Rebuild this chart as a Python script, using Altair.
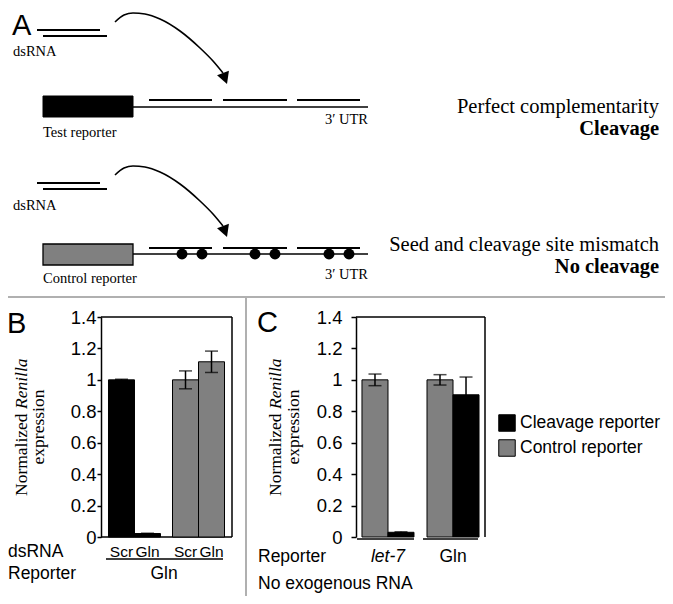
import altair as alt
import pandas as pd

SERIF = "Liberation Serif"
SANS = "Liberation Sans"

# ---------------- Panel B values ----------------
b_reporter = ["Cleavage reporter", "Cleavage reporter", "Control reporter", "Control reporter"]
b_dsrna = ["Scr", "Gln", "Scr", "Gln"]
b_mean = [1.0, 0.022, 1.0, 1.115]
b_err = [0.004, 0.002, 0.057, 0.068]

# ---------------- Panel C values ----------------
c_group = ["let-7", "let-7", "Gln", "Gln"]
c_reporter = ["Control reporter", "Cleavage reporter", "Control reporter", "Cleavage reporter"]
c_mean = [1.0, 0.03, 1.0, 0.905]
c_err = [0.037, 0.003, 0.033, 0.113]
c_group_labels = ["let-7", "Gln"]

y_tick_values = [0, 0.2, 0.4, 0.6, 0.8, 1.0, 1.2, 1.4]
series_names = ["Cleavage reporter", "Control reporter"]
series_colors = ["#000000", "#808080"]

# ---------------- Panel A schematic (figure pixel coordinates) ----------------
strand_x1 = [37, 43, 37, 43]
strand_x2 = [100, 107, 100, 107]
strand_y = [30, 36, 183, 189]

utr_x1 = [133, 133]
utr_x2 = [368, 368]
utr_y = [107, 254]

site_x1 = [149, 223, 297, 149, 223, 297]
site_x2 = [212, 287, 360, 212, 287, 360]
site_y = [100, 100, 100, 248, 248, 248]

test_box_x = [43]; test_box_x2 = [133]; test_box_y = [96]; test_box_y2 = [117]
ctrl_box_x = [43]; ctrl_box_x2 = [133]; ctrl_box_y = [244]; ctrl_box_y2 = [265]

mismatch_x = [182, 202, 255, 275, 329, 349]
mismatch_y = [254, 254, 254, 254, 254, 254]

arrow1_x = [115, 124, 133, 145, 160, 180, 200, 213, 223]
arrow1_y = [22, 15, 13, 14, 19, 31, 48, 61, 73]
arrow2_x = [115, 124, 133, 145, 160, 180, 200, 213, 223]
arrow2_y = [175, 168, 166, 167, 172, 184, 201, 214, 226]
head_x = [227, 227]
head_y = [84, 237]

# separators, plot frames and group underlines
hsep_x1 = [8]; hsep_x2 = [665]; hsep_y = [297]
vsep_x = [246]; vsep_y1 = [297]; vsep_y2 = [596]
frame_h_x1 = [101, 101, 356]
frame_h_x2 = [232, 232, 485]
frame_h_y = [317, 537, 317]
frame_v_x = [232, 485]
frame_v_y1 = [317, 317]
frame_v_y2 = [537, 537]
uline_x1 = [106, 357, 423]
uline_x2 = [223, 414, 478]
uline_y = [559, 539, 539]

# ---------------- scales for the schematic canvas ----------------
W, H = 657, 588
XS = alt.Scale(domain=[8, 8 + W], range=[0, W], zero=False, nice=False)
YS = alt.Scale(domain=[8, 8 + H], range=[0, H], zero=False, nice=False)


def PX(f):
    return alt.X(f, type="quantitative", scale=XS, axis=None)


def PY(f):
    return alt.Y(f, type="quantitative", scale=YS, axis=None)


def hrules(x1, x2, y, width=1.5, color="black"):
    df = pd.DataFrame({"x1": x1, "x2": x2, "y": y})
    return alt.Chart(df).mark_rule(strokeWidth=width, color=color).encode(
        x=PX("x1"), x2="x2", y=PY("y"))


def vrules(x, y1, y2, width=1.5, color="black"):
    df = pd.DataFrame({"x": x, "y1": y1, "y2": y2})
    return alt.Chart(df).mark_rule(strokeWidth=width, color=color).encode(
        x=PX("x"), y=PY("y1"), y2="y2")


def texts(labels, xs, ys, **mark):
    df = pd.DataFrame({"t": labels, "x": xs, "y": ys})
    return alt.Chart(df).mark_text(color="black", **mark).encode(
        x=PX("x"), y=PY("y"), text="t:N")


strands = hrules(strand_x1, strand_x2, strand_y, 1.8)
utr = hrules(utr_x1, utr_x2, utr_y, 1.5)
sites = hrules(site_x1, site_x2, site_y, 1.8)

test_box = alt.Chart(pd.DataFrame({"x": test_box_x, "x2": test_box_x2, "y": test_box_y, "y2": test_box_y2})).mark_rect(
    fill="black", stroke="black", strokeWidth=1).encode(x=PX("x"), x2="x2", y=PY("y"), y2="y2")
ctrl_box = alt.Chart(pd.DataFrame({"x": ctrl_box_x, "x2": ctrl_box_x2, "y": ctrl_box_y, "y2": ctrl_box_y2})).mark_rect(
    fill="#808080", stroke="black", strokeWidth=1.3).encode(x=PX("x"), x2="x2", y=PY("y"), y2="y2")

dots = alt.Chart(pd.DataFrame({"x": mismatch_x, "y": mismatch_y})).mark_point(
    shape="circle", size=120, filled=True, color="black", opacity=1).encode(x=PX("x"), y=PY("y"))

arrow_df = pd.DataFrame({"x": arrow1_x + arrow2_x, "y": arrow1_y + arrow2_y,
                         "id": ["a1"] * len(arrow1_x) + ["a2"] * len(arrow2_x)})
arrows = alt.Chart(arrow_df).mark_line(interpolate="monotone", color="black", strokeWidth=1.6).encode(
    x=PX("x"), y=PY("y"), detail="id:N")
heads = alt.Chart(pd.DataFrame({"x": head_x, "y": head_y})).mark_point(
    shape="M0,0L-0.54,-1L0.54,-1Z", size=548, angle=340, filled=True, color="black", opacity=1, strokeWidth=0
).encode(x=PX("x"), y=PY("y"))

hsep = hrules(hsep_x1, hsep_x2, hsep_y, 2, "#b0b0b0")
vsep = vrules(vsep_x, vsep_y1, vsep_y2, 2, "#b0b0b0")
frame_h = hrules(frame_h_x1, frame_h_x2, frame_h_y, 1.5)
frame_v = vrules(frame_v_x, frame_v_y1, frame_v_y2, 1.5)
ulines = hrules(uline_x1, uline_x2, uline_y, 1.5)

schem_small = texts(["dsRNA", "dsRNA", "Test reporter", "Control reporter"],
                    [13, 13, 43, 43], [56, 210, 137, 283],
                    font=SERIF, fontSize=14.5, align="left", baseline="alphabetic")
utr_text = texts(["3′ UTR", "3′ UTR"], [368, 368], [124, 279],
                 font=SERIF, fontSize=14.5, align="right", baseline="alphabetic")
right_plain = texts(["Perfect complementarity", "Seed and cleavage site mismatch"], [659, 659], [113, 251],
                    font=SERIF, fontSize=20.5, align="right", baseline="alphabetic")
right_bold = texts(["Cleavage", "No cleavage"], [659, 659], [135, 273],
                   font=SERIF, fontSize=20.5, fontWeight="bold", align="right", baseline="alphabetic")
letters = texts(["A", "B", "C"], [12, 7, 257], [35, 333, 332],
                font=SANS, fontSize=29, align="left", baseline="alphabetic")
row_labels = texts(["dsRNA", "Reporter", "Reporter", "No exogenous RNA"], [8, 8, 258, 258], [557, 579, 562, 589],
                   font=SANS, fontSize=17.5, align="left", baseline="alphabetic")
b_rep_label = texts(["Gln"], [164], [579], font=SANS, fontSize=17.5, align="center", baseline="alphabetic")

ytitle_norm = texts(["Normalized", "Normalized"], [22, 276], [496, 496],
                    font=SERIF, fontSize=17.5, angle=270, align="left", baseline="middle")
ytitle_ren = texts(["Renilla", "Renilla"], [22, 276], [409, 409],
                   font=SERIF, fontSize=17.5, fontStyle="italic", angle=270, align="left", baseline="middle")
ytitle_expr = texts(["expression", "expression"], [39, 294], [427, 427],
                    font=SERIF, fontSize=17.5, angle=270, align="center", baseline="middle")

schematic_units = [hsep, vsep, strands, utr, sites, test_box, ctrl_box, dots, arrows, heads, ulines,
                   frame_h, frame_v, schem_small, utr_text, right_plain, right_bold, letters,
                   row_labels, b_rep_label, ytitle_norm, ytitle_ren, ytitle_expr]

# ---------------- shared bar chart pieces ----------------
COLOR = alt.Color("reporter:N", scale=alt.Scale(domain=series_names, range=series_colors),
                  legend=alt.Legend(orient="none", legendX=490, legendY=406, title=None,
                                    symbolType="square", symbolSize=272, symbolStrokeColor="black",
                                    symbolStrokeWidth=1, labelFont=SANS, labelFontSize=17.5,
                                    labelColor="black", labelOffset=4, rowPadding=3, padding=0))


def YB():
    return alt.Scale(domain=[0, 1.4], range=[529, 309], zero=True, nice=False)


def yaxis_left(offset, tick, pad):
    return alt.Axis(orient="left", offset=offset, values=y_tick_values, format="~g", grid=False, title=None,
                    labelFont=SANS, labelFontSize=18.5, labelColor="black", tickColor="black",
                    tickSize=tick, tickWidth=1.5, domainColor="black", domainWidth=1.5, labelPadding=pad)


def bar_panel(df, xfield, offfield, xscale, offscale, left_off, tick, pad):
    base = alt.Chart(df)
    xe = alt.X(f"{xfield}:N", scale=xscale, axis=None)
    oe = alt.XOffset(f"{offfield}:N", scale=offscale)
    bars = base.mark_bar(stroke="black", strokeWidth=1).encode(
        x=xe, xOffset=oe,
        y=alt.Y("mean:Q", scale=YB(), axis=yaxis_left(left_off, tick, pad)),
        color=COLOR)
    rules = base.mark_rule(color="black", strokeWidth=1.5).encode(
        x=xe, xOffset=oe, y=alt.Y("lo:Q", scale=YB(), axis=None), y2="hi:Q")
    cap_lo = base.mark_tick(color="black", thickness=1.5, size=13).encode(
        x=xe, xOffset=oe, y=alt.Y("lo:Q", scale=YB(), axis=None))
    cap_hi = base.mark_tick(color="black", thickness=1.5, size=13).encode(
        x=xe, xOffset=oe, y=alt.Y("hi:Q", scale=YB(), axis=None))
    return [bars, rules, cap_lo, cap_hi]


# ---------------- Panel B ----------------
b_df = pd.DataFrame({"reporter": b_reporter, "dsrna": b_dsrna, "mean": b_mean, "err": b_err})
b_df["lo"] = b_df["mean"] - b_df["err"]
b_df["hi"] = b_df["mean"] + b_df["err"]
BX = alt.Scale(type="band", domain=series_names, range=[93, 224], paddingInner=0.1875, paddingOuter=0.117)
BXO = alt.Scale(type="band", domain=["Scr", "Gln"], paddingInner=0, paddingOuter=0)
b_units = bar_panel(b_df, "reporter", "dsrna", BX, BXO, -93, 4, 1)
b_ticklabels = alt.Chart(b_df).mark_text(font=SANS, fontSize=15.5, color="black", baseline="alphabetic").encode(
    x=alt.X("reporter:N", scale=BX, axis=None),
    xOffset=alt.XOffset("dsrna:N", scale=BXO),
    y=alt.value(549), text="dsrna:N")
b_units.append(b_ticklabels)

# ---------------- Panel C ----------------
c_df = pd.DataFrame({"group": c_group, "reporter": c_reporter, "mean": c_mean, "err": c_err})
c_df["lo"] = c_df["mean"] - c_df["err"]
c_df["hi"] = c_df["mean"] + c_df["err"]
CX = alt.Scale(type="band", domain=c_group_labels, range=[348, 477], paddingInner=0.2, paddingOuter=0.092)
CXO = alt.Scale(type="band", domain=["Control reporter", "Cleavage reporter"], paddingInner=0, paddingOuter=0)
c_units = bar_panel(c_df, "group", "reporter", CX, CXO, -348, 5, 9)
c_lab_df = pd.DataFrame({"group": c_group_labels})
c_lab_it = alt.Chart(c_lab_df).transform_filter(alt.datum.group == "let-7").mark_text(
    font=SANS, fontSize=17.5, fontStyle="italic", color="black", baseline="alphabetic").encode(
    x=alt.X("group:N", scale=CX, axis=None), y=alt.value(554), text="group:N")
c_lab_rm = alt.Chart(c_lab_df).transform_filter(alt.datum.group != "let-7").mark_text(
    font=SANS, fontSize=17.5, color="black", baseline="alphabetic").encode(
    x=alt.X("group:N", scale=CX, axis=None), y=alt.value(554), text="group:N")
c_units += [c_lab_it, c_lab_rm]

chart = alt.layer(*schematic_units, *b_units, *c_units).resolve_scale(
    x="independent", y="independent", xOffset="independent"
).properties(
    width=W, height=H, padding=0,
    autosize=alt.AutoSizeParams(type="none"),
    background="white"
).configure_view(stroke=None)

chart.save("out.html", embed_options={"renderer": "svg", "actions": False})
